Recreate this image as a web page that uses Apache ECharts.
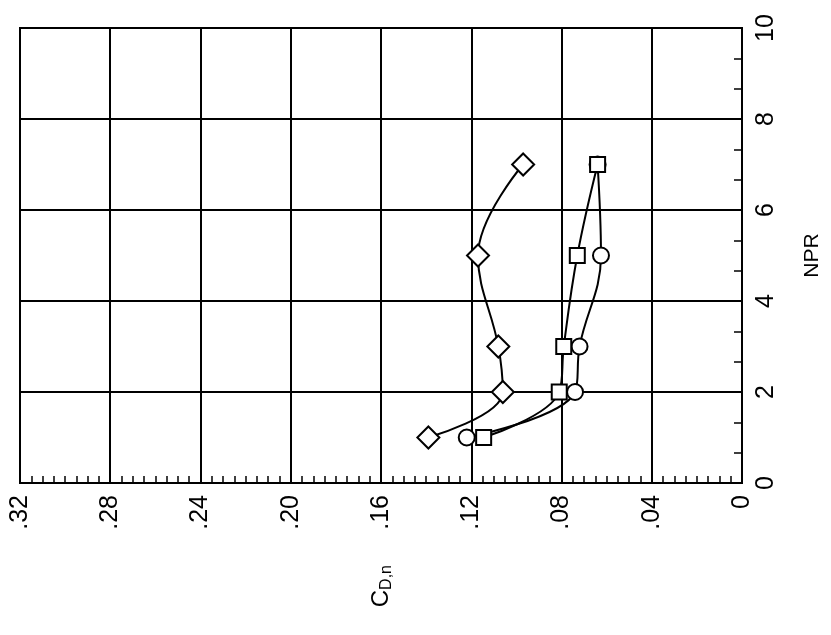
<!DOCTYPE html>
<html lang="en">
<head>
    <meta charset="UTF-8">
    <title>CD,n vs NPR</title>
    <script src="https://cdn.jsdelivr.net/npm/echarts@6/dist/echarts.min.js"></script>
    <style>
        * {
            padding: 0;
            margin: 0;
        }

        #chart {
            width: 831px;
            height: 635px;
            background: #fff;
        }
    </style>
</head>
<body>
    <div id="chart"></div>
    <script>
        // NPR values for each measured point
        const npr = [1, 2, 3, 5, 7];
        // C_D,n values per configuration
        const cdDiamond = [0.139, 0.106, 0.108, 0.117, 0.097];
        const cdSquare = [0.1145, 0.081, 0.079, 0.073, 0.064];
        const cdCircle = [0.122, 0.074, 0.072, 0.0625, 0.064];

        const toPairs = (cd) => cd.map((c, i) => [c, npr[i]]);

        const fontFam = '"Liberation Sans", Arial, sans-serif';

        function makeSeries(name, symbol, size, cd) {
            return {
                name: name,
                type: 'line',
                data: toPairs(cd),
                smooth: 0.4,
                symbol: symbol,
                symbolSize: size,
                showAllSymbol: true,
                lineStyle: { color: '#000', width: 2 },
                itemStyle: { color: '#fff', borderColor: '#000', borderWidth: 2 },
                emphasis: { disabled: true },
                z: 3
            };
        }

        let myChart = echarts.init(document.getElementById('chart'));
        let option = {
            backgroundColor: '#fff',
            animation: false,
            grid: {
                left: 20,
                right: 86,
                top: 28,
                bottom: 152,
                show: true,
                borderColor: '#000',
                borderWidth: 2
            },
            xAxis: {
                type: 'value',
                min: 0,
                max: 0.32,
                interval: 0.04,
                inverse: true,
                position: 'bottom',
                name: '{c|C}{s|D,n}',
                nameLocation: 'middle',
                nameRotate: 90,
                nameGap: 82,
                nameTextStyle: {
                    rich: {
                        c: { fontSize: 24, fontFamily: fontFam, color: '#000' },
                        s: { fontSize: 16, fontFamily: fontFam, color: '#000', padding: [12, 0, 0, 0] }
                    }
                },
                axisLine: { show: true, lineStyle: { color: '#000', width: 2 } },
                axisTick: { show: false, inside: true },
                minorTick: { show: true, splitNumber: 8, length: 7, lineStyle: { color: '#000', width: 1.5 } },
                splitLine: { show: true, lineStyle: { color: '#000', width: 2 } },
                axisLabel: {
                    rotate: 90,
                    margin: 12,
                    color: '#000',
                    fontSize: 25,
                    fontFamily: fontFam,
                    formatter: (v) => v === 0 ? '0' : v.toFixed(2).replace(/^0/, '')
                }
            },
            yAxis: {
                type: 'value',
                min: 0,
                max: 10,
                interval: 2,
                position: 'right',
                name: 'NPR',
                nameLocation: 'middle',
                nameRotate: 90,
                nameGap: 60,
                nameTextStyle: { fontSize: 21, fontFamily: fontFam, color: '#000' },
                axisLine: { show: true, lineStyle: { color: '#000', width: 2 } },
                axisTick: { show: true, inside: true, length: 8, lineStyle: { color: '#000', width: 1.5 } },
                minorTick: { show: true, splitNumber: 3, length: 8, lineStyle: { color: '#000', width: 1.5 } },
                splitLine: { show: true, lineStyle: { color: '#000', width: 2 } },
                axisLabel: {
                    rotate: 90,
                    margin: 12,
                    color: '#000',
                    fontSize: 25,
                    fontFamily: fontFam
                }
            },
            series: [
                makeSeries('diamond', 'diamond', 22, cdDiamond),
                makeSeries('circle', 'circle', 16, cdCircle),
                makeSeries('square', 'rect', 15, cdSquare)
            ]
        };
        myChart.setOption(option, true);
    </script>
</body>
</html>
